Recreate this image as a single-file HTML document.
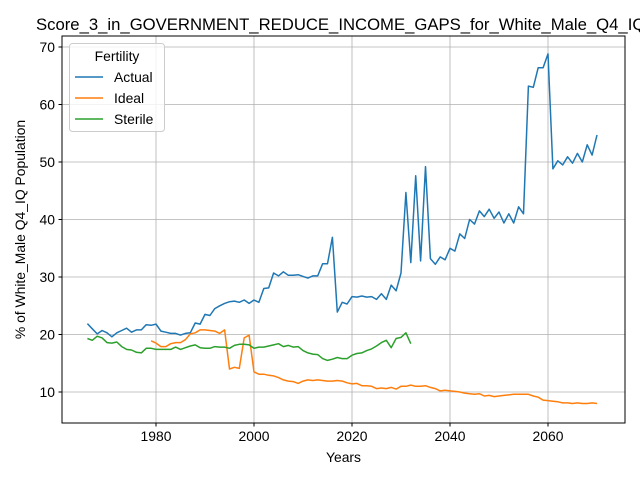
<!DOCTYPE html>
<html><head><meta charset="utf-8"><style>
body{margin:0;background:#fff;}
svg{display:block;font-family:"Liberation Sans","DejaVu Sans",sans-serif;}
</style></head><body>
<svg id="chart" width="640" height="480">
<text x="36" y="30" font-size="16.7" fill="#000">Score_3_in_GOVERNMENT_REDUCE_INCOME_GAPS_for_White_Male_Q4_IQ</text>
<g id="grid"></g>
<g id="series"></g>
<rect x="62" y="36" width="563" height="387" fill="none" stroke="#000" stroke-width="1"/>
<g id="ticks"></g>
<text x="343.5" y="462" font-size="13.9" text-anchor="middle">Years</text>
<text transform="translate(25,229.5) rotate(-90)" font-size="13.9" text-anchor="middle">% of White_Male Q4_IQ Population</text>
<g id="legend">
<rect x="69.5" y="43.5" width="95" height="88" rx="3" fill="#fff" fill-opacity="0.8" stroke="#ccc"/>
<text x="117" y="61" font-size="13.9" text-anchor="middle">Fertility</text>
</g>
</svg>
<script>
const yearsActual=[];for(let y=1966;y<=2070;y++)yearsActual.push(y);
const actual=[21.9,21.0,20.1,20.7,20.3,19.6,20.3,20.7,21.1,20.4,20.8,20.8,21.7,21.6,21.8,20.6,20.4,20.2,20.2,19.9,20.2,20.3,22.0,21.8,23.5,23.3,24.5,25.0,25.4,25.7,25.8,25.6,26.0,25.4,26.0,25.6,28.0,28.1,30.7,30.2,30.9,30.3,30.3,30.4,30.1,29.8,30.2,30.2,32.3,32.3,36.9,23.9,25.6,25.3,26.6,26.5,26.7,26.5,26.6,26.1,27.1,26.1,28.6,27.6,30.7,44.7,32.5,47.6,32.8,49.2,33.2,32.2,33.5,33.0,35.0,34.5,37.5,36.7,40.0,39.2,41.5,40.5,41.8,40.2,41.3,39.4,41.0,39.4,42.2,41.0,63.2,63.0,66.4,66.4,68.8,48.8,50.2,49.5,50.9,49.8,51.5,50.0,53.0,51.2,54.7];
const yearsIdeal=[];for(let y=1979;y<=2070;y++)yearsIdeal.push(y);
const ideal=[18.9,18.5,17.9,17.9,18.4,18.6,18.6,19.1,20.1,20.3,20.8,20.8,20.7,20.6,20.2,20.8,14.0,14.3,14.1,19.4,19.9,13.5,13.1,13.1,12.9,12.8,12.5,12.1,11.9,11.8,11.5,11.9,12.1,12.0,12.1,12.0,11.9,11.9,12.0,11.9,11.6,11.4,11.5,11.1,11.1,11.0,10.6,10.7,10.6,10.8,10.5,11.0,11.0,11.2,11.0,11.0,11.1,10.8,10.6,10.2,10.3,10.2,10.1,10.0,9.8,9.7,9.6,9.7,9.3,9.4,9.2,9.3,9.4,9.5,9.6,9.6,9.6,9.6,9.3,9.1,8.6,8.5,8.4,8.3,8.1,8.1,8.0,8.1,8.0,8.0,8.1,8.0];
const yearsSterile=[];for(let y=1966;y<=2032;y++)yearsSterile.push(y);
const sterile=[19.3,19.0,19.7,19.4,18.6,18.5,18.7,17.9,17.4,17.3,16.9,16.8,17.6,17.6,17.4,17.4,17.4,17.4,17.8,17.4,17.7,18.0,18.2,17.7,17.6,17.6,17.9,17.8,17.8,17.6,18.1,18.3,18.3,18.2,17.6,17.8,17.8,18.0,18.2,18.4,17.9,18.1,17.8,17.9,17.2,16.8,16.6,16.5,15.8,15.5,15.7,16.0,15.8,15.8,16.4,16.7,16.8,17.2,17.5,18.0,18.6,19.0,17.7,19.3,19.5,20.3,18.4];
const xTicks=[1980,2000,2020,2040,2060];
const yTicks=[10,20,30,40,50,60,70];
const seriesNames=["Actual","Ideal","Sterile"];
const colors=["#1f77b4","#ff7f0e","#2ca02c"];

const NS="http://www.w3.org/2000/svg";
function X(yr){return 156+(yr-1980)*4.9;}
function Y(v){return 392-(v-10)*5.75;}
function mk(tag,attrs,parent){const e=document.createElementNS(NS,tag);for(const k in attrs)e.setAttribute(k,attrs[k]);parent.appendChild(e);return e;}
const grid=document.getElementById('grid'),ticks=document.getElementById('ticks'),ser=document.getElementById('series'),leg=document.getElementById('legend');
xTicks.forEach(t=>{
 const l=mk('line',{x1:X(t),x2:X(t),y1:36,y2:423,stroke:'#b0b0b0','stroke-width':0.8},grid);
 
 
 mk('line',{x1:X(t),x2:X(t),y1:423,y2:426.5,stroke:'#000'},ticks);
 const tx=mk('text',{x:X(t),y:441,'font-size':13.9,'text-anchor':'middle'},ticks);tx.textContent=t;
 
 
});
yTicks.forEach(t=>{
 const l=mk('line',{x1:62,x2:625,y1:Y(t),y2:Y(t),stroke:'#b0b0b0','stroke-width':0.8},grid);
 
 
 mk('line',{x1:58.5,x2:62,y1:Y(t),y2:Y(t),stroke:'#000'},ticks);
 const tx=mk('text',{x:55,y:Y(t)+5,'font-size':13.9,'text-anchor':'end'},ticks);tx.textContent=t;
 
 
});
const data=[[yearsActual,actual],[yearsIdeal,ideal],[yearsSterile,sterile]];
data.forEach((d,i)=>{
 const pts=d[0].map((yr,j)=>X(yr).toFixed(1)+','+Y(d[1][j]).toFixed(1)).join(' ');
 const p=mk('polyline',{points:pts,fill:'none',stroke:colors[i],'stroke-width':1.5,'stroke-linejoin':'round'},ser);
 
 
 const ly=77+i*21;
 const ll=mk('line',{x1:75,x2:103,y1:ly,y2:ly,stroke:colors[i],'stroke-width':1.5},leg);
 
 
 const lt=mk('text',{x:114,y:ly+5,'font-size':13.9},leg);lt.textContent=seriesNames[i];
 
 
});
</script>
</body></html>
